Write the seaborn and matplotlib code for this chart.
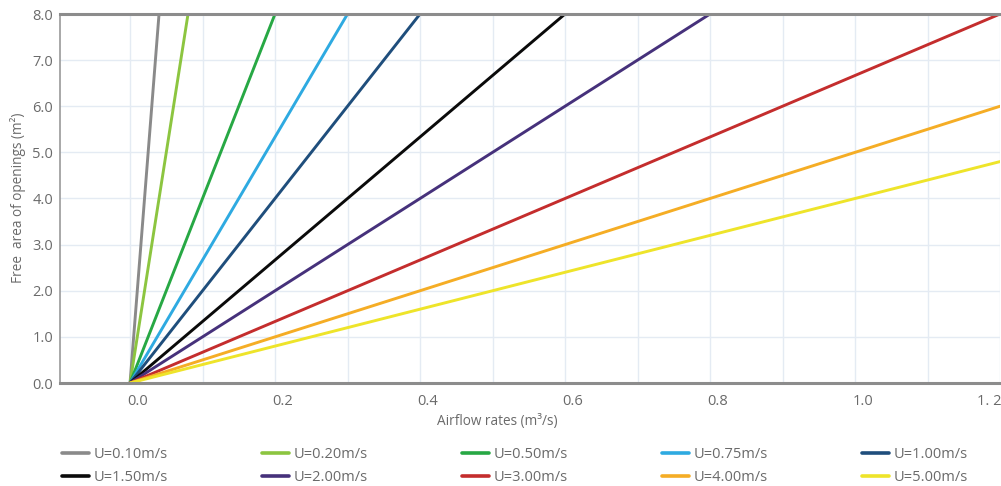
import numpy as np
import pandas as pd
import matplotlib
matplotlib.use("Agg")
import matplotlib.pyplot as plt
import matplotlib.transforms as mtransforms
import seaborn as sns

# ---- data ----
series_labels = ["U=0.10m/s", "U=0.20m/s", "U=0.50m/s", "U=0.75m/s", "U=1.00m/s",
                 "U=1.50m/s", "U=2.00m/s", "U=3.00m/s", "U=4.00m/s", "U=5.00m/s"]
start_q = [0.0, 0.0, 0.0, 0.0, 0.0, 0.0, 0.0, 0.0, 0.0, 0.0]
start_a = [0.0, 0.0, 0.0, 0.0, 0.0, 0.0, 0.0, 0.0, 0.0, 0.0]
end_q = [0.04, 0.08, 0.20, 0.30, 0.40, 0.60, 0.80, 1.20, 1.20, 1.20]
end_a = [8.0, 8.0, 8.0, 8.0, 8.0, 8.0, 8.0, 8.0, 6.0, 4.8]
series_colors = ["#8a8a8a", "#8cc540", "#27a844", "#2eaae1", "#1f4e7c",
                 "#0a0a0a", "#46317b", "#c42d2d", "#f5ad25", "#eee42a"]
x_tick_values = [0.0, 0.2, 0.4, 0.6, 0.8, 1.0, 1.2]
x_tick_labels = ["0.0", "0.2", "0.4", "0.6", "0.8", "1.0", "1. 2"]
y_tick_values = [0, 1, 2, 3, 4, 5, 6, 7, 8]
y_tick_labels = ["0.0", "1.0", "2.0", "3.0", "4.0", "5.0", "6.0", "7.0", "8.0"]

rows = []
for lab, q0, a0, q1, a1 in zip(series_labels, start_q, start_a, end_q, end_a):
    rows.append({"Q": q0, "A": a0, "U": lab})
    rows.append({"Q": q1, "A": a1, "U": lab})
df = pd.DataFrame(rows)

sns.set_style("white")
plt.rcParams["font.family"] = ["Open Sans", "DejaVu Sans"]
TXT = "#6a6a6a"
FS = 10.5
FS_TITLE = 9.8

W, H = 1001, 486
fig = plt.figure(figsize=(W / 100, H / 100), dpi=100)
ax = fig.add_axes([60 / W, 1 - 383 / H, 940 / W, 369 / H])

sns.lineplot(data=df, x="Q", y="A", hue="U", hue_order=series_labels,
             palette=dict(zip(series_labels, series_colors)),
             estimator=None, sort=False, units="U", linewidth=2.1, ax=ax, legend=True)

ax.set_xlim(-0.0966, 1.2)
ax.set_ylim(0, 8)

# grid
ax.set_xticks(np.round(np.arange(0.0, 1.21, 0.1), 2), minor=True)
ax.set_xticks(x_tick_values)
ax.set_xticklabels(x_tick_labels)
ax.set_yticks(y_tick_values)
ax.set_yticklabels(y_tick_labels)
ax.grid(which="both", axis="x", color="#e4ebf3", lw=1.0)
ax.grid(which="major", axis="y", color="#e4ebf3", lw=1.0)
ax.set_axisbelow(True)

ax.tick_params(axis="x", which="major", length=0, pad=8, labelsize=FS, labelcolor=TXT)
ax.tick_params(axis="x", which="minor", length=5, width=1, color="#d8dde5", direction="out")
ax.tick_params(axis="y", which="major", length=0, pad=5, labelsize=FS, labelcolor=TXT)

offset = mtransforms.ScaledTranslation(8 / 100, 0, fig.dpi_scale_trans)
for i, lbl in enumerate(ax.get_xticklabels()):
    if i == len(x_tick_labels) - 1:
        lbl.set_transform(lbl.get_transform() + mtransforms.ScaledTranslation(-11 / 100, 0, fig.dpi_scale_trans))
    else:
        lbl.set_transform(lbl.get_transform() + offset)

for s in ["top", "bottom"]:
    ax.spines[s].set_color("#8c8c8c")
    ax.spines[s].set_linewidth(2.2)
ax.spines["left"].set_color("#999999")
ax.spines["left"].set_linewidth(1.2)
ax.spines["right"].set_visible(False)

ax.set_xlabel("")
ax.set_ylabel("")
fig.text(497 / W, 1 - 421 / H, "Airflow rates (m³/s)", ha="center", va="center",
         fontsize=FS_TITLE, color=TXT)
fig.text(18 / W, 1 - 198 / H, "Free  area of openings (m²)", ha="center", va="center",
         rotation=90, fontsize=FS_TITLE, color=TXT)

handles, labels = ax.get_legend_handles_labels()
ax.get_legend().remove()
for c in range(5):
    idx = [c, c + 5]
    leg = fig.legend([handles[i] for i in idx], [labels[i] for i in idx],
                     ncol=1, loc="upper left",
                     bbox_to_anchor=((62 + 200 * c) / W, 1 - 447 / H),
                     frameon=False, fontsize=FS, handlelength=1.85, handletextpad=0.3,
                     labelspacing=0.58, borderaxespad=0, borderpad=0)
    for t in leg.get_texts():
        t.set_color(TXT)
    for h in leg.legend_handles:
        h.set_linewidth(2.6)

fig.savefig("out.png", dpi=100)
